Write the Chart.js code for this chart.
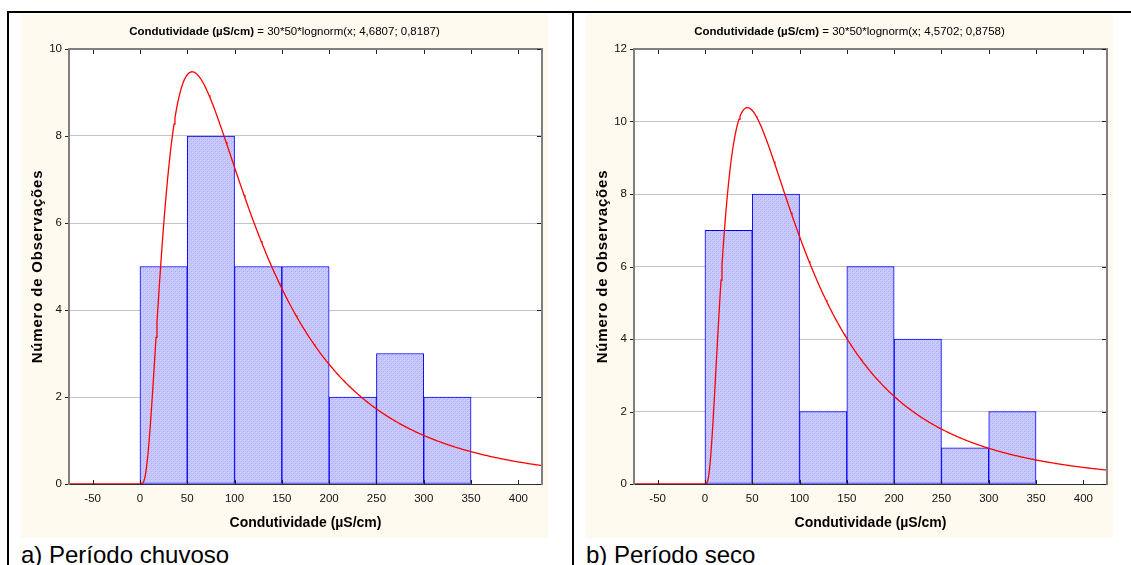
<!DOCTYPE html>
<html>
<head>
<meta charset="utf-8">
<script src="https://cdn.jsdelivr.net/npm/chart.js@4.4.1/dist/chart.umd.min.js"></script>
<style>
  html, body { margin: 0; padding: 0; background: #fff; }
  #page { position: relative; width: 1131px; height: 565px; overflow: hidden;
          font-family: "Liberation Sans", Arial, sans-serif; }
  .rule { position: absolute; background: #000; }
  .panel { position: absolute; top: 14px; width: 527px; height: 524px; background: #fffaf0; }
  .panel canvas { display: block; }
  .caption { position: absolute; font-size: 24px; line-height: 1; color: #000; white-space: nowrap; }
</style>
</head>
<body>
<div id="page">
  <div class="rule" style="left:7px;top:11px;width:1124px;height:2px"></div>
  <div class="rule" style="left:7px;top:11px;width:2px;height:554px"></div>
  <div class="rule" style="left:572px;top:11px;width:2px;height:554px"></div>

  <div class="panel" style="left:21px"><canvas id="chartRainy" width="527" height="524"></canvas></div>
  <div class="panel" style="left:586px"><canvas id="chartDry" width="527" height="524"></canvas></div>

  <div class="caption" style="left:21px;top:543px">a) Período chuvoso</div>
  <div class="caption" style="left:586px;top:543px">b) Período seco</div>
</div>

<script>
// Histogram bins (µS/cm): centres of 50-wide classes from 0 to 350
const binCenters = [25, 75, 125, 175, 225, 275, 325];
const binWidth = 50;
const sampleSize = 30;

// Observation counts per class
const countsRainy = [5, 8, 5, 5, 2, 3, 2];
const countsDry   = [7, 8, 2, 6, 4, 1, 2];

// Fitted lognormal parameters (mu, sigma), as printed in each title
const fitRainy = [4.6807, 0.8187];
const fitDry   = [4.5702, 0.8758];

// Axis settings
const xRange = [-75, 425];
const xTicks = [-50, 0, 50, 100, 150, 200, 250, 300, 350, 400];
const yMaxRainy = 10;
const yMaxDry = 12;
const yStep = 2;

// Texts
const xTitle = 'Condutividade (µS/cm)';
const yTitle = 'Número de Observações';
const titleBold = 'Condutividade (µS/cm)';
const titleRainy = ' = 30*50*lognorm(x; 4,6807; 0,8187)';
const titleDry   = ' = 30*50*lognorm(x; 4,5702; 0,8758)';

const FONT = '"Liberation Sans", Arial, sans-serif';

// Expected frequency curve: N * width * lognormal density
function lognormCurve(fit) {
  const [mu, sigma] = fit;
  const pts = [];
  for (let x = xRange[0]; x <= xRange[1]; x += 1) {
    let y = 0;
    if (x > 0) {
      const z = (Math.log(x) - mu) / sigma;
      y = sampleSize * binWidth * Math.exp(-0.5 * z * z) / (x * sigma * Math.sqrt(2 * Math.PI));
    }
    pts.push({ x, y });
  }
  return pts;
}

// Fine cross-hatch used for the bars
function hatchPattern() {
  const tile = document.createElement('canvas');
  tile.width = 4; tile.height = 4;
  const g = tile.getContext('2d');
  g.fillStyle = '#cbcbfc';
  g.fillRect(0, 0, 4, 4);
  g.fillStyle = '#adadf5';
  for (let i = 0; i < 4; i++) {
    g.fillRect(i, 3 - i, 1, 1);
  }
  g.fillStyle = '#bcbcf8';
  for (let i = 0; i < 4; i++) {
    g.fillRect(i, (i + 1) % 4, 1, 1);
  }
  return g.createPattern(tile, 'repeat');
}

// White plot background, axes frame, tick marks and the titles
const decor = {
  id: 'decor',
  beforeDraw(chart) {
    const { ctx, chartArea: a } = chart;
    ctx.save();
    ctx.fillStyle = '#ffffff';
    ctx.fillRect(a.left, a.top, a.right - a.left, a.bottom - a.top);
    ctx.restore();
  },
  beforeDatasetsDraw(chart) {
    const { ctx, chartArea: a } = chart;
    ctx.save();
    ctx.strokeStyle = '#303030';
    ctx.lineWidth = 1;
    ctx.beginPath();
    ctx.moveTo(a.left, a.bottom + 0.5);
    ctx.lineTo(a.right, a.bottom + 0.5);
    ctx.stroke();
    ctx.restore();
  },
  afterDatasetsDraw(chart, args, opts) {
    const { ctx, chartArea: a, scales } = chart;
    const xs = scales.x, ys = scales.y;
    ctx.save();
    // frame
    ctx.strokeStyle = '#7f7f7f';
    ctx.lineWidth = 2;
    ctx.beginPath();
    ctx.moveTo(a.left, a.bottom + 1);
    ctx.lineTo(a.left, a.top);
    ctx.lineTo(a.right, a.top);
    ctx.lineTo(a.right, a.bottom + 1);
    ctx.stroke();
    // tick marks
    ctx.strokeStyle = '#202020';
    ctx.lineWidth = 1;
    ctx.beginPath();
    xTicks.forEach(v => {
      const px = Math.round(xs.getPixelForValue(v)) + 0.5;
      ctx.moveTo(px, a.top + 1); ctx.lineTo(px, a.top + 5);
      ctx.moveTo(px, a.bottom); ctx.lineTo(px, a.bottom - 4);
    });
    ys.ticks.forEach(t => {
      const py = Math.round(ys.getPixelForValue(t.value)) + 0.5;
      ctx.moveTo(a.left - 4, py); ctx.lineTo(a.left - 1, py);
      ctx.moveTo(a.right - 1, py); ctx.lineTo(a.right - 5, py);
    });
    ctx.stroke();

    // chart title: bold variable name followed by the fitted expression
    ctx.fillStyle = '#000';
    ctx.textBaseline = 'middle';
    ctx.textAlign = 'left';
    const tf = '11.5px ' + FONT;
    ctx.font = 'bold ' + tf;
    const w1 = ctx.measureText(titleBold).width;
    ctx.font = tf;
    const w2 = ctx.measureText(opts.expr).width;
    const tx = chart.width / 2 - (w1 + w2) / 2;
    ctx.font = 'bold ' + tf;
    ctx.fillText(titleBold, tx, 18);
    ctx.font = tf;
    ctx.fillText(opts.expr, tx + w1, 18);

    // axis titles
    ctx.textAlign = 'center';
    ctx.font = 'bold 14px ' + FONT;
    ctx.fillText(xTitle, (a.left + a.right) / 2, 509);

    ctx.translate(17, (a.top + a.bottom) / 2);
    ctx.rotate(-Math.PI / 2);
    ctx.font = 'bold 15px ' + FONT;
    ctx.letterSpacing = '0.8px';
    ctx.fillText(yTitle, 0, 0);
    ctx.restore();
  }
};

function makeChart(id, counts, fit, yMax, expr) {
  const yGridColor = c => (c.tick.value === 0 || c.tick.value === yMax) ? 'rgba(0,0,0,0)' : '#c4c4c4';
  return new Chart(document.getElementById(id), {
    type: 'bar',
    data: {
      datasets: [
        {
          type: 'line',
          data: lognormCurve(fit),
          borderColor: '#ff0000',
          borderWidth: 1.3,
          pointRadius: 0,
          tension: 0,
          order: 0
        },
        {
          type: 'bar',
          data: binCenters.map((c, i) => ({ x: c, y: counts[i] })),
          backgroundColor: hatchPattern(),
          borderColor: '#0000ff',
          borderWidth: 1,
          borderSkipped: false,
          barPercentage: 1,
          categoryPercentage: 1,
          order: 1
        }
      ]
    },
    options: {
      responsive: false,
      animation: false,
      events: [],
      layout: { padding: { top: 35, right: 6, left: 0, bottom: 0 } },
      plugins: {
        legend: { display: false },
        title: { display: false },
        tooltip: { enabled: false },
        decor: { expr }
      },
      scales: {
        x: {
          type: 'linear',
          min: xRange[0],
          max: xRange[1],
          offset: false,
          afterBuildTicks: s => { s.ticks = xTicks.map(v => ({ value: v })); },
          afterFit: s => { s.height = 54; },
          grid: { display: false, offset: false, drawTicks: false },
          border: { display: false },
          ticks: { padding: 8, maxRotation: 0, autoSkip: false, color: '#111',
                   font: { family: FONT, size: 11.5 } }
        },
        y: {
          min: 0,
          max: yMax,
          afterFit: s => { s.width = 48; },
          grid: { color: yGridColor, lineWidth: 1, drawTicks: false },
          border: { display: false },
          ticks: { stepSize: yStep, padding: 7, color: '#111',
                   font: { family: FONT, size: 11.5 } }
        }
      }
    },
    plugins: [decor]
  });
}

makeChart('chartRainy', countsRainy, fitRainy, yMaxRainy, titleRainy);
makeChart('chartDry', countsDry, fitDry, yMaxDry, titleDry);
</script>
</body>
</html>
